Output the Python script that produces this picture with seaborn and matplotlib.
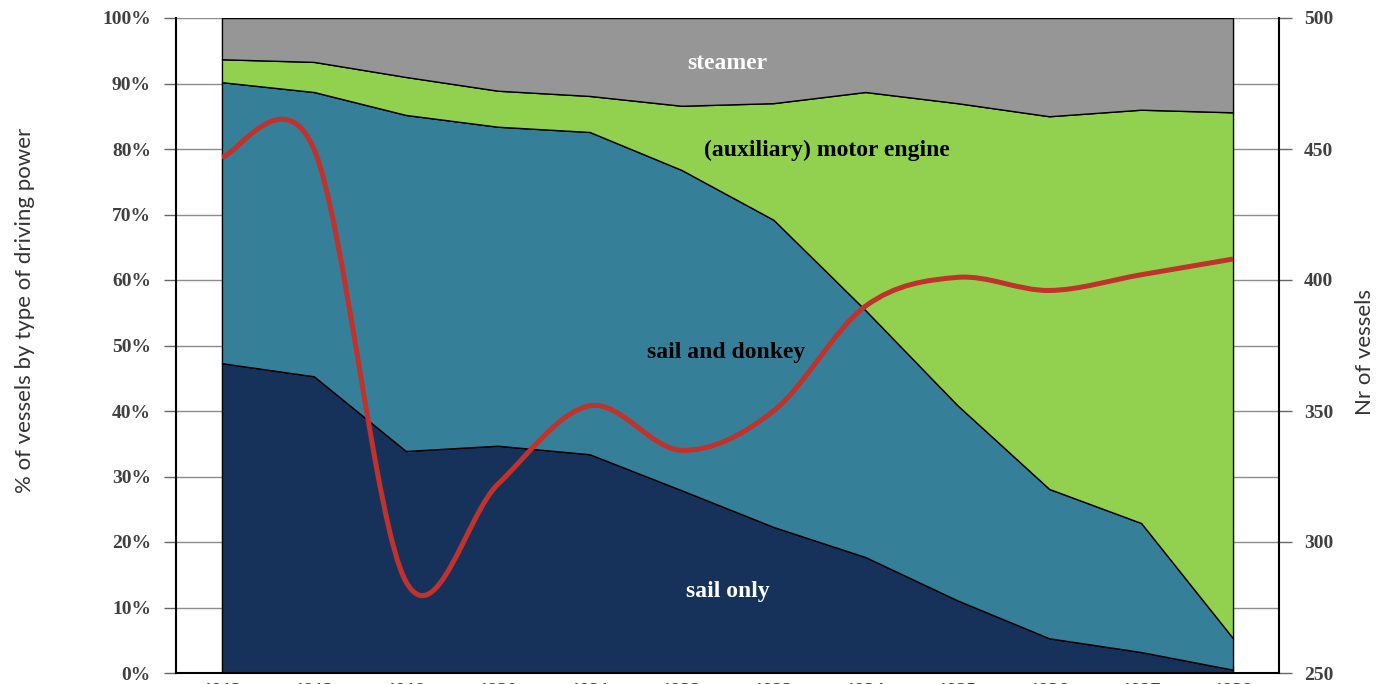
import numpy as np
import matplotlib
matplotlib.use("Agg")
import matplotlib.pyplot as plt
from matplotlib.path import Path
from matplotlib.patches import PathPatch
import seaborn as sns

# --- data ---
years = ["1912", "1913", "1918", "1920", "1921", "1922",
         "1923", "1924", "1925", "1926", "1927", "1928"]
# share of vessels (%) by type of driving power
sail_only = [47.3, 45.3, 33.9, 34.7, 33.4, 27.9, 22.3, 17.7, 11.1, 5.3, 3.2, 0.5]
sail_donkey = [42.9, 43.4, 51.3, 48.7, 49.2, 48.9, 46.9, 37.7, 29.8, 22.8, 19.7, 4.8]
motor = [3.5, 4.6, 5.8, 5.5, 5.5, 9.8, 17.8, 33.3, 46.1, 56.9, 63.1, 80.3]
steamer = [6.3, 6.7, 9.0, 11.1, 11.9, 13.4, 13.0, 11.3, 13.0, 15.0, 14.0, 14.4]
# number of vessels (right axis)
nr_vessels = [447, 450, 285, 322, 352, 335, 350, 390, 401, 396, 402, 408]

area_colors = ["#17325a", "#367f98", "#92d050", "#969696"]
red = "#c0322b"

sns.set_style("white")
plt.rcParams["font.family"] = ["Liberation Serif", "DejaVu Serif"]

fig = plt.figure(figsize=(13.79, 6.84), dpi=100)
ax = fig.add_axes([176 / 1379, 11 / 684, 1103 / 1379, 655 / 684])

x = np.arange(len(years))
ax.stackplot(x, sail_only, sail_donkey, motor, steamer, colors=area_colors,
             edgecolor="black", linewidth=1, zorder=2)

ax.set_xlim(-0.5, len(years) - 0.5)
ax.set_ylim(0, 100)
ax.set_yticks(range(0, 101, 10))
ax.set_yticklabels([f"{v}%" for v in range(0, 101, 10)])
ax.set_xticks(x)
ax.set_xticklabels(years)
ax.set_xticks(np.arange(-0.5, len(years), 1), minor=True)
ax.yaxis.grid(True, color="#8c8c8c", lw=1)
ax.set_axisbelow(True)

ax.tick_params(axis="x", which="major", length=0, pad=7, labelsize=14,
               labelcolor="#404040")
ax.tick_params(axis="x", which="minor", length=14, width=1, color="#666666",
               direction="out")
ax.tick_params(axis="y", length=9, width=1, color="#666666", direction="out",
               pad=9, labelsize=14, labelcolor="#404040")
for lab in ax.get_xticklabels() + ax.get_yticklabels():
    lab.set_fontweight("bold")
for side in ["left", "bottom"]:
    ax.spines[side].set_color("black")
    ax.spines[side].set_linewidth(1.5)
ax.spines["top"].set_visible(False)
ax.spines["right"].set_visible(False)

# area labels
ax.text(5.5, 93.0, "steamer", color="white", fontsize=17, fontweight="bold",
        ha="center", va="center", zorder=5)
ax.text(6.58, 79.8, "(auxiliary) motor engine", color="black", fontsize=17,
        fontweight="bold", ha="center", va="center", zorder=5)
ax.text(5.48, 48.9, "sail and donkey", color="black", fontsize=17,
        fontweight="bold", ha="center", va="center", zorder=5)
ax.text(5.5, 12.4, "sail only", color="white", fontsize=17,
        fontweight="bold", ha="center", va="center", zorder=5)

# --- right axis: number of vessels, smoothed line ---
ax2 = ax.twinx()
ax2.set_ylim(250, 500)
ax2.set_yticks(range(250, 501, 50))
ax2.tick_params(axis="y", length=9, width=1, color="#666666", direction="out",
                pad=9, labelsize=14, labelcolor="#404040")
for lab in ax2.get_yticklabels():
    lab.set_fontweight("bold")
for side in ["left", "top", "bottom"]:
    ax2.spines[side].set_visible(False)
ax2.spines["right"].set_color("black")
ax2.spines["right"].set_linewidth(1.5)

pts = np.column_stack([x, nr_vessels]).astype(float)
ext = np.vstack([pts[0], pts, pts[-1]])
verts = [pts[0]]
codes = [Path.MOVETO]
for i in range(len(pts) - 1):
    p0, p1, p2, p3 = ext[i], ext[i + 1], ext[i + 2], ext[i + 3]
    verts += [p1 + (p2 - p0) / 6, p2 - (p3 - p1) / 6, p2]
    codes += [Path.CURVE4] * 3
ax2.add_patch(PathPatch(Path(verts, codes), fill=False, edgecolor=red,
                        lw=3.6, capstyle="butt", zorder=4))

# axis titles
fig.text(25 / 1379, 1 - 310 / 684, "% of vessels by type of driving power",
         rotation=90, ha="center", va="center", fontsize=16, color="#333333",
         family=["Lato", "DejaVu Sans"])
fig.text(1365 / 1379, 1 - 352 / 684, "Nr of vessels", rotation=90,
         ha="center", va="center", fontsize=16, color="#333333",
         family=["Lato", "DejaVu Sans"])

fig.savefig("out.png", dpi=100)
